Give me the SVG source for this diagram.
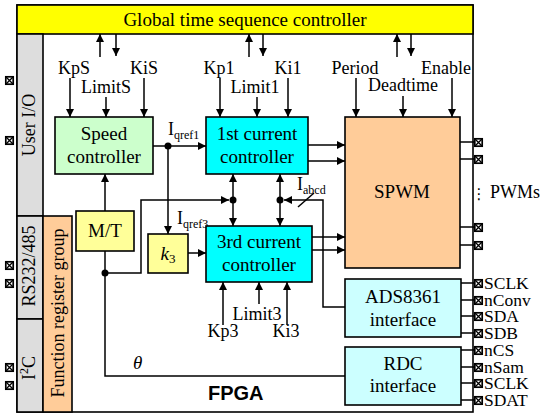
<svg xmlns="http://www.w3.org/2000/svg" xmlns:xlink="http://www.w3.org/1999/xlink" width="548" height="413" viewBox="0 0 548 413">
<style>
text{font-family:"Liberation Serif","Times New Roman",serif;fill:#000}
.t19{font-size:19px}
.t18{font-size:18px}
.pl{font-size:17.5px}
.mid{text-anchor:middle}
.box{stroke:#000;stroke-width:1.6}
.ln{stroke:#000;stroke-width:1.5;fill:none}
.arr{stroke:#000;stroke-width:1.5;fill:none;marker-end:url(#ah)}
.arr2{stroke:#000;stroke-width:1.5;fill:none;marker-end:url(#ah);marker-start:url(#ah)}
.sub{font-size:12px}
</style>
<defs>
<marker id="ah" viewBox="0 0 10 10" refX="10" refY="5" markerWidth="9" markerHeight="8" markerUnits="userSpaceOnUse" orient="auto-start-reverse"><path d="M0,0 L10,5 L0,10 z" fill="#000"/></marker>
<symbol id="pin" viewBox="0 0 9 9" width="9" height="9" overflow="visible"><rect x="0.8" y="0.8" width="7.4" height="7.4" fill="#fff" stroke="#000" stroke-width="1.7"/><path d="M0.8,0.8 L8.2,8.2 M8.2,0.8 L0.8,8.2" stroke="#000" stroke-width="1.3"/></symbol>
</defs>
<rect width="548" height="413" fill="#fff"/>

<g id="fpga">
<rect x="17" y="5" width="456" height="407" fill="#fff" class="box"/>
<text x="208" y="400" style="font-family:'Liberation Sans',Arial,sans-serif;font-weight:bold;font-size:20px">FPGA</text>
</g>

<g id="global-controller">
<rect x="17" y="5" width="456" height="29" fill="#ffff00" class="box"/>
<text x="245" y="26" class="t19 mid">Global time sequence controller</text>
</g>

<g id="user-io">
<rect x="17" y="34" width="26" height="182" fill="#dddddd" class="box"/>
<text transform="translate(35,125) rotate(-90)" class="t18 mid">User I/O</text>
</g>
<g id="rs232">
<rect x="17" y="216" width="26" height="103" fill="#dddddd" class="box"/>
<text transform="translate(35,266) rotate(-90)" class="t18 mid">RS232/485</text>
</g>
<g id="i2c">
<rect x="17" y="319" width="26" height="93" fill="#dddddd" class="box"/>
<text transform="translate(35,368) rotate(-90)" class="t18 mid">I<tspan font-size="12" dy="-7">2</tspan><tspan dy="7">C</tspan></text>
</g>
<g id="function-register">
<rect x="43" y="216" width="29" height="196" fill="#ffcc99" class="box"/>
<text transform="translate(64,313) rotate(-90)" class="t18 mid">Function register group</text>
</g>

<g id="connectors">
<line x1="100" y1="57" x2="100" y2="34" class="arr"/>
<line x1="116" y1="34" x2="116" y2="56" class="arr"/>
<line x1="249" y1="57" x2="249" y2="34" class="arr"/>
<line x1="263" y1="34" x2="263" y2="56" class="arr"/>
<line x1="397" y1="57" x2="397" y2="34" class="arr"/>
<line x1="411" y1="34" x2="411" y2="56" class="arr"/>
<line x1="70" y1="78" x2="70" y2="117" class="arr"/>
<line x1="106" y1="97" x2="106" y2="117" class="arr"/>
<line x1="144" y1="78" x2="144" y2="117" class="arr"/>
<line x1="220" y1="78" x2="220" y2="117" class="arr"/>
<line x1="257" y1="97" x2="257" y2="117" class="arr"/>
<line x1="288" y1="78" x2="288" y2="117" class="arr"/>
<line x1="356" y1="78" x2="356" y2="117" class="arr"/>
<line x1="403" y1="96" x2="403" y2="117" class="arr"/>
<line x1="452" y1="78" x2="452" y2="117" class="arr"/>
<line x1="223" y1="325" x2="223" y2="282" class="arr"/>
<line x1="259" y1="304" x2="259" y2="282" class="arr"/>
<line x1="287" y1="325" x2="287" y2="282" class="arr"/>
<line x1="153" y1="146" x2="206" y2="146" class="arr"/>
<circle cx="168" cy="146" r="3.5" fill="#000"/>
<line x1="168" y1="146" x2="168" y2="234" class="arr"/>
<line x1="105" y1="211" x2="105" y2="174" class="arr"/>
<line x1="188" y1="253" x2="206" y2="253" class="arr"/>
<polyline points="105,251 105,376 345,376" class="ln"/>
<circle cx="105" cy="273" r="3.5" fill="#000"/>
<polyline points="105,273 141,273 141,200 229,200" class="arr"/>
<line x1="233" y1="174" x2="233" y2="226" class="arr2"/>
<line x1="280" y1="174" x2="280" y2="226" class="arr2"/>
<circle cx="233" cy="200" r="3.5" fill="#000"/>
<circle cx="280" cy="200" r="3.5" fill="#000"/>
<polyline points="345,307 323,307 323,200 284,200" class="arr"/>
<line x1="298" y1="207" x2="314" y2="193" class="ln"/>
<line x1="308" y1="145" x2="345" y2="145" class="arr"/>
<line x1="308" y1="161" x2="345" y2="161" class="arr"/>
<line x1="312" y1="237" x2="345" y2="237" class="arr"/>
<line x1="312" y1="250" x2="345" y2="250" class="arr"/>
<line x1="460" y1="142" x2="474" y2="142" class="ln"/>
<line x1="460" y1="159" x2="474" y2="159" class="ln"/>
<line x1="460" y1="227" x2="474" y2="227" class="ln"/>
<line x1="460" y1="245" x2="474" y2="245" class="ln"/>
<line x1="461" y1="283" x2="474" y2="283" class="ln"/>
<line x1="461" y1="300" x2="474" y2="300" class="ln"/>
<line x1="461" y1="316" x2="474" y2="316" class="ln"/>
<line x1="461" y1="333" x2="474" y2="333" class="ln"/>
<line x1="461" y1="350" x2="474" y2="350" class="ln"/>
<line x1="461" y1="367" x2="474" y2="367" class="ln"/>
<line x1="461" y1="383" x2="474" y2="383" class="ln"/>
<line x1="461" y1="400" x2="474" y2="400" class="ln"/>
</g>

<g id="labels">
<text x="74" y="74" class="t18 mid">KpS</text>
<text x="106" y="93" class="t18 mid">LimitS</text>
<text x="144" y="74" class="t18 mid">KiS</text>
<text x="219" y="74" class="t18 mid">Kp1</text>
<text x="255" y="93" class="t18 mid">Limit1</text>
<text x="288" y="74" class="t18 mid">Ki1</text>
<text x="355" y="74" class="t18 mid">Period</text>
<text x="403" y="91" class="t18 mid">Deadtime</text>
<text x="446" y="74" class="t18 mid">Enable</text>
<text x="257" y="320" class="t18 mid">Limit3</text>
<text x="223" y="337" class="t18 mid">Kp3</text>
<text x="286" y="337" class="t18 mid">Ki3</text>
<text x="168" y="135" class="t18">I<tspan class="sub" dy="4">qref1</tspan></text>
<text x="177" y="224" class="t18">I<tspan class="sub" dy="4">qref3</tspan></text>
<text x="297" y="190" class="t18">I<tspan class="sub" dy="4">abcd</tspan></text>
<text x="133" y="369" class="t19" font-style="italic">θ</text>
<text x="479" y="199" style="font-family:'DejaVu Sans',sans-serif;font-size:15px" text-anchor="middle">⋮</text>
<text x="490" y="198" class="t18">PWMs</text>
<text x="484" y="289" class="pl">SCLK</text>
<text x="484" y="306" class="pl">nConv</text>
<text x="484" y="322" class="pl">SDA</text>
<text x="484" y="339" class="pl">SDB</text>
<text x="484" y="356" class="pl">nCS</text>
<text x="484" y="373" class="pl">nSam</text>
<text x="484" y="389" class="pl">SCLK</text>
<text x="484" y="406" class="pl">SDAT</text>
</g>

<g id="speed-controller">
<rect x="55" y="117" width="98" height="57" fill="#ccffcc" class="box"/>
<text x="104" y="140" class="t19 mid">Speed</text>
<text x="104" y="163" class="t19 mid">controller</text>
</g>
<g id="current1">
<rect x="206" y="117" width="102" height="57" fill="#00ffff" class="box"/>
<text x="257" y="140" class="t19 mid">1st current</text>
<text x="257" y="163" class="t19 mid">controller</text>
</g>
<g id="current3">
<rect x="206" y="226" width="106" height="56" fill="#00ffff" class="box"/>
<text x="259" y="248" class="t19 mid">3rd current</text>
<text x="259" y="271" class="t19 mid">controller</text>
</g>
<g id="mt">
<rect x="76" y="211" width="58" height="40" fill="#ffff99" class="box"/>
<text x="105" y="237" class="t19 mid">M/T</text>
</g>
<g id="k3">
<rect x="148" y="234" width="40" height="39" fill="#ffff99" class="box"/>
<text x="168" y="260" class="t19 mid"><tspan font-style="italic">k</tspan><tspan font-size="13" dy="3">3</tspan></text>
</g>
<g id="spwm">
<rect x="345" y="117" width="115" height="151" fill="#ffcc99" class="box"/>
<text x="402" y="198" class="t19 mid">SPWM</text>
</g>
<g id="ads8361">
<rect x="345" y="279" width="116" height="58" fill="#ccffff" class="box"/>
<text x="403" y="303" class="t19 mid">ADS8361</text>
<text x="403" y="326" class="t19 mid">interface</text>
</g>
<g id="rdc">
<rect x="345" y="347" width="116" height="58" fill="#ccffff" class="box"/>
<text x="403" y="370" class="t19 mid">RDC</text>
<text x="403" y="392" class="t19 mid">interface</text>
</g>

<g id="pins">
<use xlink:href="#pin" x="5" y="76"/>
<use xlink:href="#pin" x="5" y="136"/>
<use xlink:href="#pin" x="5" y="261"/>
<use xlink:href="#pin" x="5" y="279"/>
<use xlink:href="#pin" x="5" y="363"/>
<use xlink:href="#pin" x="5" y="381"/>
<use xlink:href="#pin" x="474" y="138"/>
<use xlink:href="#pin" x="474" y="155"/>
<use xlink:href="#pin" x="474" y="223"/>
<use xlink:href="#pin" x="474" y="241"/>
<use xlink:href="#pin" x="474" y="279"/>
<use xlink:href="#pin" x="474" y="296"/>
<use xlink:href="#pin" x="474" y="312"/>
<use xlink:href="#pin" x="474" y="329"/>
<use xlink:href="#pin" x="474" y="346"/>
<use xlink:href="#pin" x="474" y="363"/>
<use xlink:href="#pin" x="474" y="379"/>
<use xlink:href="#pin" x="474" y="396"/>
</g>
</svg>
